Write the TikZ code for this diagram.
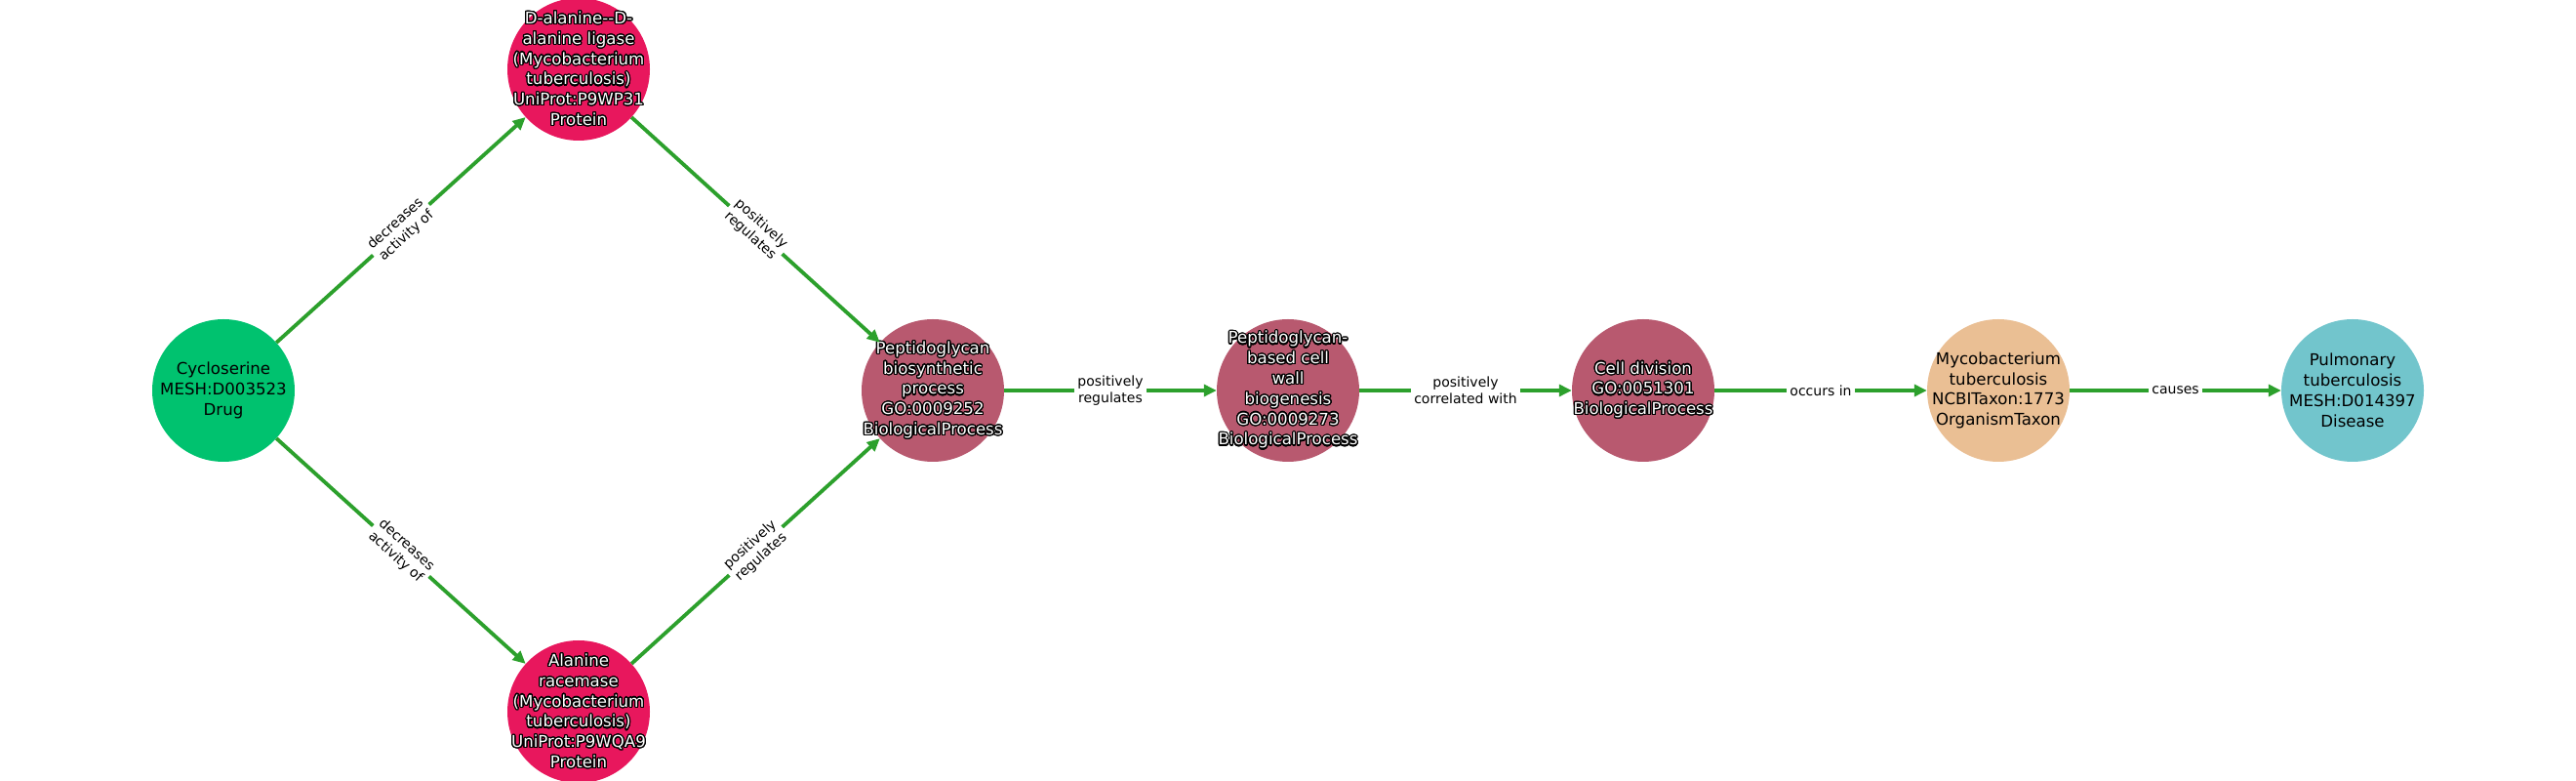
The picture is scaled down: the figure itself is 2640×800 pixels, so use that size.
\documentclass[tikz,border=0pt]{standalone}
\usepackage{fontspec}
\setmainfont{DejaVu Sans}
\usepackage{contour}
\contourlength{1.2pt}
\contournumber{24}
\usetikzlibrary{arrows.meta}
\definecolor{cdrug}{HTML}{00C26F}
\definecolor{cprot}{HTML}{E8175D}
\definecolor{cbp}{HTML}{B8596F}
\definecolor{corg}{HTML}{EABF94}
\definecolor{cdis}{HTML}{72C5CC}
\definecolor{cedge}{HTML}{2CA02C}
\newcommand\W[1]{\contour{black}{#1}}
\tikzset{
  ent/.style={circle, minimum size=146pt, inner sep=0pt},
  labtxt/.style={align=center, inner sep=0pt, font=\fontsize{16.6}{20.8}\selectfont},
  drugnode/.style={ent, fill=cdrug},
  protnode/.style={ent, fill=cprot},
  bpnode/.style={ent, fill=cbp},
  orgnode/.style={ent, fill=corg},
  disnode/.style={ent, fill=cdis},
  blk/.style={labtxt, text=black},
  wht/.style={labtxt, text=white},
  edge/.style={draw=cedge, line width=3.8pt, -{Triangle[length=13pt,width=12pt]}},
  elab/.style={fill=white, text=black, inner sep=3pt, align=center,
    font=\fontsize{14}{16.7}\selectfont, midway}
}
\begin{document}
\begin{tikzpicture}[x=1pt,y=1pt]
\useasboundingbox (0,0) rectangle (2640,800);
\node[drugnode, label={[blk]center:{Cycloserine\\MESH:D003523\\Drug}}] (cy) at (229,400) {};
\node[protnode, label={[wht]center:{\W{D-alanine-\kern0pt-D-}\\\W{alanine ligase}\\\W{(Mycobacterium}\\\W{tuberculosis)}\\\W{UniProt:P9WP31}\\\W{Protein}}}] (lig) at (593,729) {};
\node[protnode, label={[wht]center:{\W{Alanine}\\\W{racemase}\\\W{(Mycobacterium}\\\W{tuberculosis)}\\\W{UniProt:P9WQA9}\\\W{Protein}}}] (rac) at (593,71) {};
\node[bpnode, label={[wht]center:{\W{Peptidoglycan}\\\W{biosynthetic}\\\W{process}\\\W{GO:0009252}\\\W{BiologicalProcess}}}] (pb) at (956,400) {};
\node[bpnode, label={[wht]center:{\W{Peptidoglycan-}\\\W{based cell}\\\W{wall}\\\W{biogenesis}\\\W{GO:0009273}\\\W{BiologicalProcess}}}] (pw) at (1320,400) {};
\node[bpnode, label={[wht]center:{\W{Cell division}\\\W{GO:0051301}\\\W{BiologicalProcess}}}] (cd) at (1684,400) {};
\node[orgnode, label={[blk]center:{Mycobacterium\\tuberculosis\\NCBITaxon:1773\\OrganismTaxon}}] (mt) at (2048,400) {};
\node[disnode, label={[blk]center:{Pulmonary\\tuberculosis\\MESH:D014397\\Disease}}] (pt) at (2411,400) {};
\draw[edge] (cy) -- node[elab, sloped] (l1) {decreases\\activity of} (lig);
\draw[edge] (cy) -- node[elab, sloped] (l2) {decreases\\activity of} (rac);
\draw[edge] (lig) -- node[elab, sloped] (l3) {positively\\regulates} (pb);
\draw[edge] (rac) -- node[elab, sloped] (l4) {positively\\regulates} (pb);
\draw[edge] (pb) -- node[elab] (l5) {positively\\regulates} (pw);
\draw[edge] (pw) -- node[elab] (l6) {positively\\correlated with} (cd);
\draw[edge] (cd) -- node[elab] (l7) {occurs in} (mt);
\draw[edge] (mt) -- node[elab] (l8) {causes} (pt);
\end{tikzpicture}
\end{document}
